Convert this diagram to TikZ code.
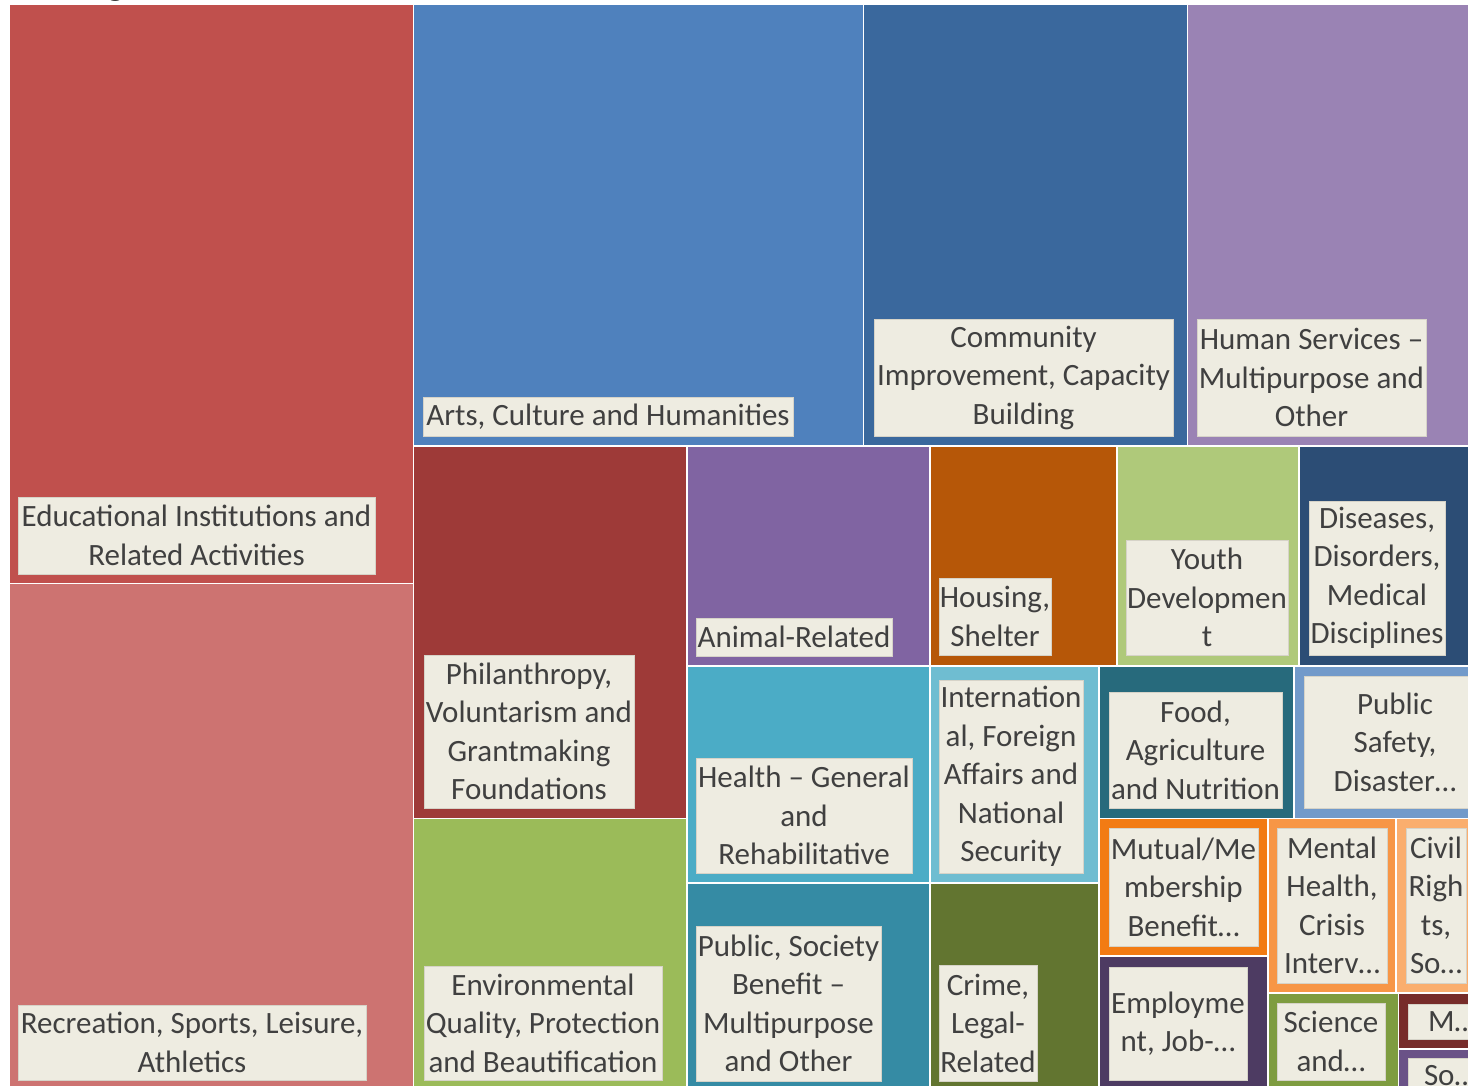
\documentclass[tikz,border=0pt]{standalone}
\usepackage{fontspec}
\setmainfont{Carlito}
\usepackage{xcolor}

\definecolor{labelbg}{HTML}{EEECE1}
\definecolor{labeledge}{HTML}{D6D3C8}
\definecolor{labeltext}{HTML}{404040}
\definecolor{cEdu}{HTML}{C0504D}
\definecolor{cRec}{HTML}{CD7371}
\definecolor{cArts}{HTML}{4F81BD}
\definecolor{cComm}{HTML}{3A689D}
\definecolor{cHum}{HTML}{9A83B4}
\definecolor{cPhil}{HTML}{9E3A38}
\definecolor{cEnv}{HTML}{9BBB59}
\definecolor{cAnim}{HTML}{8064A2}
\definecolor{cHous}{HTML}{B65708}
\definecolor{cYouth}{HTML}{AFC97A}
\definecolor{cDis}{HTML}{2C4D75}
\definecolor{cHealth}{HTML}{4BACC6}
\definecolor{cIntl}{HTML}{6FBDD1}
\definecolor{cFood}{HTML}{276A7C}
\definecolor{cSafe}{HTML}{729ACA}
\definecolor{cSoc}{HTML}{358BA4}
\definecolor{cCrime}{HTML}{627530}
\definecolor{cMut}{HTML}{F27B13}
\definecolor{cEmpl}{HTML}{4D3B62}
\definecolor{cMent}{HTML}{F79646}
\definecolor{cCivil}{HTML}{FAAE6E}
\definecolor{cSci}{HTML}{7E9C40}
\definecolor{cM}{HTML}{772C2A}
\definecolor{cSo}{HTML}{6A5287}

\begin{document}
\begin{tikzpicture}[x=1pt,y=-1pt,
		cell/.style={draw=white,line width=1.5pt},
		lbl/.style={fill=labelbg,draw=labeledge,line width=0.8pt,inner sep=0pt,
			align=center,text=labeltext,font=\fontsize{31}{38.5}\selectfont}]
	\useasboundingbox (0,0) rectangle (1468,1086);
	% cut-off title above the map
	\node[anchor=base,font=\bfseries\fontsize{40}{48}\selectfont] (title) at (116,-5) {g};
	\begin{scope}
		\clip (9,4) rectangle (1468,1086);
		%
		\path[cell,fill=cEdu] (9,4) rectangle (413.5,583.5);
		\path[cell,fill=cRec] (9,583.5) rectangle (413.5,1090);
		\path[cell,fill=cArts] (413.5,4) rectangle (863.5,446);
		\path[cell,fill=cComm] (863.5,4) rectangle (1187.5,446);
		\path[cell,fill=cHum] (1187.5,4) rectangle (1472,446);
		\path[cell,fill=cPhil] (413.5,446) rectangle (687,818.5);
		\path[cell,fill=cEnv] (413.5,818.5) rectangle (687,1090);
		\path[cell,fill=cAnim] (687,446) rectangle (930,666);
		\path[cell,fill=cHous] (930,446) rectangle (1117,666);
		\path[cell,fill=cYouth] (1117,446) rectangle (1299,666);
		\path[cell,fill=cDis] (1299,446) rectangle (1472,666);
		\path[cell,fill=cHealth] (687,666) rectangle (930,883);
		\path[cell,fill=cIntl] (930,666) rectangle (1099,883);
		\path[cell,fill=cFood] (1099,666) rectangle (1294,818.5);
		\path[cell,fill=cSafe] (1294,666) rectangle (1472,818.5);
		\path[cell,fill=cSoc] (687,883) rectangle (930,1090);
		\path[cell,fill=cCrime] (930,883) rectangle (1099,1090);
		\path[cell,fill=cMut] (1099,818.5) rectangle (1268,956);
		\path[cell,fill=cEmpl] (1099,956) rectangle (1268,1090);
		\path[cell,fill=cMent] (1268,818.5) rectangle (1396,993);
		\path[cell,fill=cCivil] (1396,818.5) rectangle (1472,993);
		\path[cell,fill=cSci] (1268,993) rectangle (1398.5,1090);
		\path[cell,fill=cM] (1398.5,993) rectangle (1472,1049);
		\path[cell,fill=cSo] (1398.5,1049) rectangle (1472,1090);
		%
		\node[lbl,minimum width=357,minimum height=77] (edu) at (196.5,535.5) {Educational Institutions and\\Related Activities};
		\node[lbl,minimum width=348,minimum height=75] (rec) at (192,1042.5) {Recreation, Sports, Leisure,\\Athletics};
		\node[lbl,minimum width=370,minimum height=39] (arts) at (608,416.5) {Arts, Culture and Humanities};
		\node[lbl,minimum width=299,minimum height=117] (comm) at (1023.5,377.5) {Community\\Improvement, Capacity\\Building};
		\node[lbl,minimum width=229,minimum height=117] (hum) at (1311.5,377.5) {Human Services --\\Multipurpose and\\Other};
		\node[lbl,minimum width=210,minimum height=153] (phil) at (529,731.5) {Philanthropy,\\Voluntarism and\\Grantmaking\\Foundations};
		\node[lbl,minimum width=238,minimum height=114] (env) at (543,1023) {Environmental\\Quality, Protection\\and Beautification};
		\node[lbl,minimum width=196,minimum height=38] (anim) at (794,637) {Animal-Related};
		\node[lbl,minimum width=112,minimum height=77] (hous) at (995,616.5) {Housing,\\Shelter};
		\node[lbl,minimum width=162,minimum height=115] (youth) at (1207,597.5) {Youth\\Developmen\\t};
		\node[lbl,minimum width=136,minimum height=154] (dis) at (1377,578) {Diseases,\\Disorders,\\Medical\\Disciplines};
		\node[lbl,minimum width=216,minimum height=115] (health) at (804,815.5) {Health -- General\\and\\Rehabilitative};
		\node[lbl,minimum width=144,minimum height=193] (intl) at (1011,776.5) {Internation\\al, Foreign\\Affairs and\\National\\Security};
		\node[lbl,minimum width=173,minimum height=116] (food) at (1195.5,750) {Food,\\Agriculture\\and Nutrition};
		\node[lbl,minimum width=182,minimum height=132] (safe) at (1395,742) {Public\\Safety,\\Disaster…};
		\node[lbl,minimum width=185,minimum height=155] (soc) at (788.5,1003.5) {Public, Society\\Benefit --\\Multipurpose\\and Other};
		\node[lbl,minimum width=98,minimum height=116] (crime) at (988,1023) {Crime,\\Legal-\\Related};
		\node[lbl,minimum width=149,minimum height=118] (mut) at (1183.5,887) {Mutual/Me\\mbership\\Benefit…};
		\node[lbl,minimum width=138,minimum height=113] (empl) at (1178,1023.5) {Employme\\nt, Job-…};
		\node[lbl,minimum width=110,minimum height=155] (ment) at (1332,905.5) {Mental\\Health,\\Crisis\\Interv…};
		\node[lbl,minimum width=60,minimum height=155] (civil) at (1436,905.5) {Civil\\Righ\\ts,\\So…};
		\node[lbl,minimum width=108,minimum height=77] (sci) at (1331,1041.5) {Science\\and…};
		\node[lbl,minimum width=88,minimum height=35] (mlbl) at (1452,1021.5) {M…};
		\node[lbl,minimum width=84,minimum height=36] (so) at (1450,1076) {So…};
	\end{scope}
\end{tikzpicture}
\end{document}
